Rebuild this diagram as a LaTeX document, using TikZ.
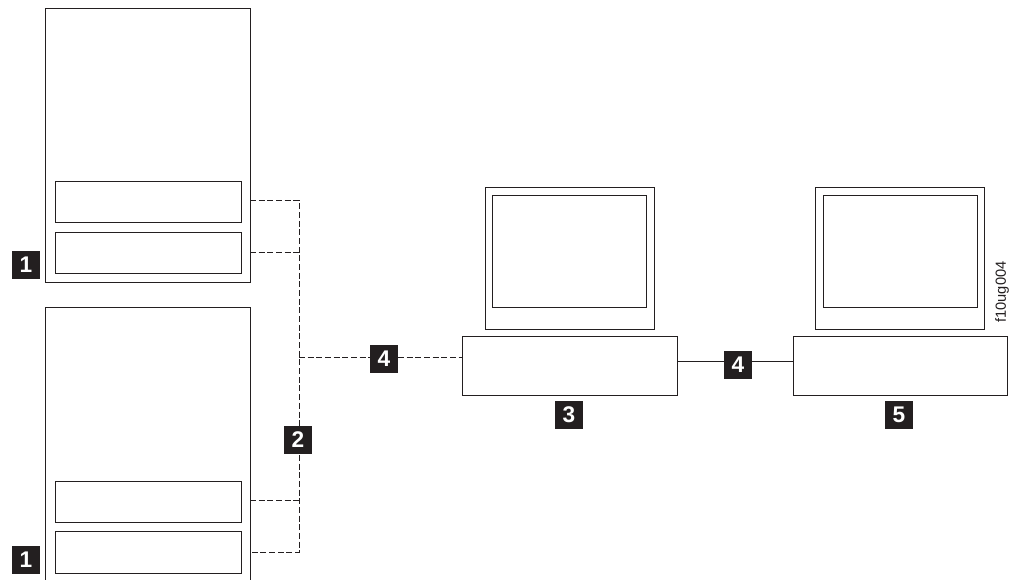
\documentclass[tikz,border=0pt]{standalone}
\usepackage{fontspec}
\setmainfont{Liberation Sans}
\definecolor{ink}{HTML}{231F20}
\tikzset{
  boxb/.style={draw=ink,line width=0.7pt,fill=white,inner sep=0pt,outer sep=0pt},
  badge/.style={fill=ink,text=white,inner sep=0pt,outer sep=0pt,minimum size=21pt,font=\fontsize{17}{17}\selectfont\bfseries},
  dashline/.style={draw=ink,line width=0.75pt,dash pattern=on 4.5pt off 2pt},
  solidline/.style={draw=ink,line width=0.75pt},
  figid/.style={text=ink,inner sep=0pt,rotate=90,font=\fontsize{11}{11}\selectfont}
}
\newcommand{\bx}[5]{\node[boxb,minimum width={(#4-#2)*0.75pt},minimum height={(#5-#3)*0.75pt}] (#1) at ({(#2+#4)/2},{(#3+#5)/2}) {};}
\begin{document}
\begin{tikzpicture}[x=0.75pt,y=-0.75pt]
\useasboundingbox (0,0) rectangle (1009,580);
\clip (0,0) rectangle (1009,580);
% servers
\bx{sA}{45.5}{8}{250}{282}
\bx{aU}{55}{181}{241}{222}
\bx{aL}{55}{232}{241}{273}
\bx{sB}{45.5}{307}{250}{600}
\bx{bU}{55}{481}{241}{522}
\bx{bL}{55}{531}{241}{573}
% consoles
\bx{mA}{485}{187}{654}{329}
\bx{sA2}{492.5}{195}{646}{307}
\bx{cA}{462.5}{336}{677}{395}
\bx{mB}{815}{187}{984}{329}
\bx{sB2}{823}{195}{977}{307}
\bx{cB}{793}{336}{1007}{395}
% badges
\node[badge] (n1a) at (26,265) {1};
\node[badge] (n1b) at (26,560) {1};
\coordinate (t1) at (299,200.5);
\coordinate (t2) at (299,552);
\coordinate (t3) at (299,253);
\coordinate (t4) at (299,500);
\coordinate (t5) at (299,358);
\draw[dashline] (sA.east |- t1) -- (t1) -- (t2) -- (sB.east |- t2);
\draw[dashline] (sA.east |- t3) -- (t3);
\draw[dashline] (sB.east |- t4) -- (t4);
\node[badge] (n2) at (298,440) {2};
\node[badge] (n4a) at (384,359) {4};
\draw[dashline] (t5) -- (n4a.west |- t5);
\draw[dashline] (n4a.east |- t5) -- (cA.west |- t5);
\node[badge] (n4b) at (738,365) {4};
\draw[solidline] (cA.east |- 0,362) -- (n4b.west |- 0,362);
\draw[solidline] (n4b.east |- 0,362) -- (cB.west |- 0,362);
\node[badge] (n3) at (569,415) {3};
\node[badge] (n5) at (899,415) {5};
\node[figid] (id) at (1002,292) {f10ug004};
\end{tikzpicture}
\end{document}
